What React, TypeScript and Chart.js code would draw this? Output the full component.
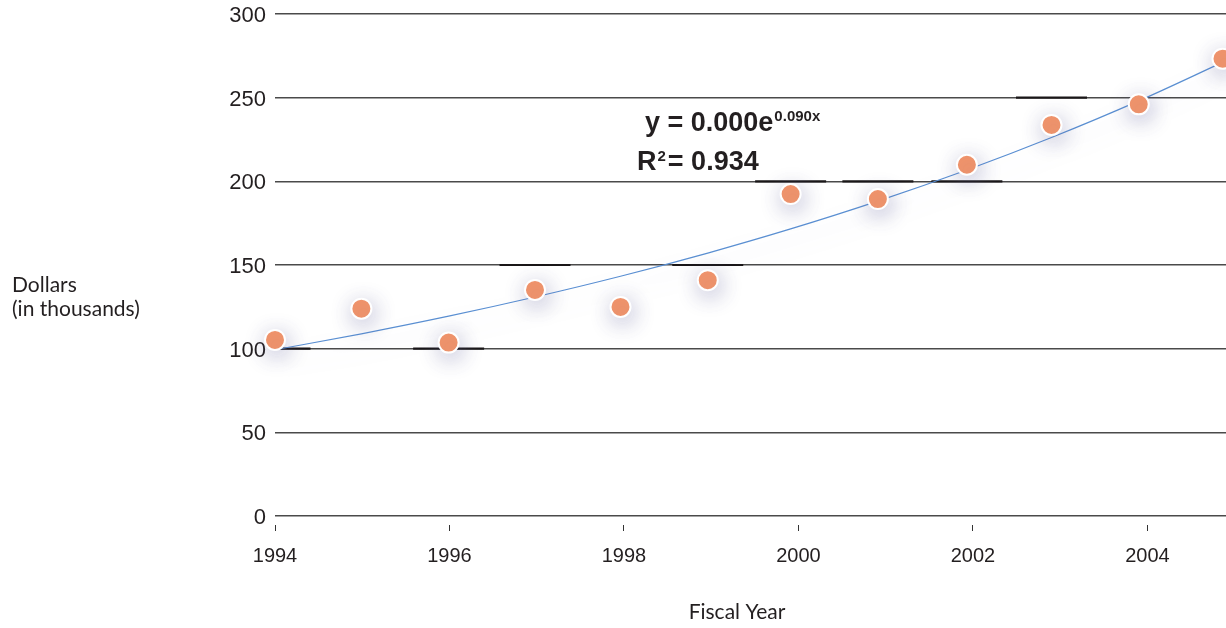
import { useEffect, useRef } from 'react';
import { Chart, registerables } from 'chart.js';

Chart.register(...registerables);

// ---- data ----
const years = [1994.0, 1994.99, 1995.99, 1996.98, 1997.96, 1998.96, 1999.91, 2000.91, 2001.93, 2002.9, 2003.9, 2004.86];
const dollars = [105.2, 123.9, 103.6, 135.1, 124.9, 140.9, 192.4, 189.4, 209.9, 233.7, 246.0, 273.3];
// short dark level marks drawn over the gridlines, one per fiscal year (null = none)
const levelMarks: (number | null)[] = [100, null, 100, 150, null, 150, 200, 200, 200, 250, null, null];
const yTickValues = [0, 50, 100, 150, 200, 250, 300];
const xTickValues = [1994, 1996, 1998, 2000, 2002, 2004];
const yAxisTitle = ['Dollars', '(in thousands)'];
const xAxisTitle = 'Fiscal Year';
const equationMain = 'y = 0.000e';
const equationExp = '0.090x';
const r2Main = 'R';
const r2Sup = '2';
const r2Value = '= 0.934';

const INK = '#231f20';
const NARROW = '"Liberation Sans Narrow", "Liberation Sans", sans-serif';

// exponential least-squares fit (ln y = ln a + b x), evaluated at the data years
function expFit(xs: number[], ys: number[]) {
  const n = xs.length;
  const x0 = xs[0];
  const lx = xs.map((x) => x - x0);
  const ly = ys.map((y) => Math.log(y));
  const mx = lx.reduce((s, v) => s + v, 0) / n;
  const my = ly.reduce((s, v) => s + v, 0) / n;
  let sxy = 0;
  let sxx = 0;
  for (let i = 0; i < n; i++) {
    sxy += (lx[i] - mx) * (ly[i] - my);
    sxx += (lx[i] - mx) * (lx[i] - mx);
  }
  const b = sxy / sxx;
  const la = my - b * mx;
  return xs.map((x) => ({ x, y: Math.exp(la + b * (x - x0)) }));
}

const shadowPlugin = {
  id: 'pointShadow',
  beforeDatasetDraw(chart: any, args: any) {
    const ctx = chart.ctx;
    ctx.save();
    if (args.index === 0) {
      ctx.shadowColor = 'rgba(95, 95, 150, 0.45)';
      ctx.shadowBlur = 22;
      ctx.shadowOffsetX = 2;
      ctx.shadowOffsetY = 5;
    } else if (args.index === 1) {
      ctx.shadowColor = 'rgba(140, 140, 200, 0.25)';
      ctx.shadowBlur = 22;
      ctx.shadowOffsetX = 0;
      ctx.shadowOffsetY = 12;
    }
  },
  afterDatasetDraw(chart: any) {
    chart.ctx.restore();
  },
};

const textPlugin = {
  id: 'texts',
  afterDraw(chart: any) {
    const ctx = chart.ctx;
    ctx.save();
    ctx.fillStyle = INK;
    ctx.textBaseline = 'alphabetic';
    ctx.textAlign = 'left';
    ctx.font = '21px Lato, "Open Sans", sans-serif';
    ctx.fillText(yAxisTitle[0], 12, 292);
    ctx.fillText(yAxisTitle[1], 12, 316);
    ctx.textAlign = 'center';
    ctx.fillText(xAxisTitle, 737, 619);

    ctx.textAlign = 'left';
    ctx.font = 'bold 27px "Liberation Sans", sans-serif';
    ctx.fillText(equationMain, 645, 131);
    const w1 = ctx.measureText(equationMain).width;
    ctx.font = 'bold 15px "Liberation Sans", sans-serif';
    ctx.fillText(equationExp, 645 + w1 + 1, 121);

    ctx.font = 'bold 27px "Liberation Sans", sans-serif';
    ctx.fillText(r2Main, 637, 170);
    const wr = ctx.measureText(r2Main).width;
    ctx.font = 'bold 15px "Liberation Sans", sans-serif';
    ctx.fillText(r2Sup, 637 + wr + 1, 161);
    const ws = ctx.measureText(r2Sup).width;
    ctx.font = 'bold 27px "Liberation Sans", sans-serif';
    ctx.fillText(r2Value, 637 + wr + ws + 3, 170);
    ctx.restore();
  },
};

export default function App() {
  const ref = useRef<HTMLCanvasElement | null>(null);

  useEffect(() => {
    if (!ref.current) return;
    const points = years.map((x, i) => ({ x, y: dollars[i] }));
    const marks = years
      .map((x, i) => ({ x, y: levelMarks[i] }))
      .filter((p) => p.y !== null) as { x: number; y: number }[];
    const trend = expFit(years, dollars);

    const chart = new Chart(ref.current, {
      type: 'scatter',
      data: {
        datasets: [
          {
            label: 'Dollars',
            data: points,
            backgroundColor: '#f4956a',
            borderColor: '#ffffff',
            borderWidth: 2,
            pointRadius: 10,
            pointHoverRadius: 10,
            clip: false,
          } as any,
          {
            type: 'line',
            label: 'Trend',
            data: trend,
            showLine: true,
            borderColor: '#5a8fd2',
            borderWidth: 1.2,
            pointRadius: 0,
            fill: false,
            cubicInterpolationMode: 'monotone',
            clip: false,
          } as any,
          {
            label: 'Marks',
            data: marks,
            pointStyle: 'line',
            pointRadius: 35.5,
            pointHoverRadius: 35.5,
            borderColor: '#1a1718',
            borderWidth: 2.2,
            backgroundColor: '#1a1718',
          } as any,
        ],
      },
      options: {
        animation: false,
        responsive: true,
        maintainAspectRatio: false,
        events: [],
        layout: { autoPadding: false, padding: { top: 14, left: 0, right: 0, bottom: 0 } },
        plugins: {
          legend: { display: false },
          tooltip: { enabled: false },
          title: { display: false },
        },
        scales: {
          x: {
            type: 'linear',
            min: 1994,
            max: 2004.9,
            afterBuildTicks: (scale: any) => {
              scale.ticks = xTickValues.map((v) => ({ value: v }));
            },
            afterFit: (scale: any) => {
              scale.height = 103;
            },
            grid: {
              drawOnChartArea: false,
              drawTicks: true,
              tickLength: 6,
              tickColor: '#333',
              tickWidth: 1,
            },
            border: { display: false },
            ticks: {
              padding: 13,
              color: INK,
              font: { family: NARROW, size: 20 },
              maxRotation: 0,
              autoSkip: false,
              callback: (v: any) => String(v),
            },
          },
          y: {
            type: 'linear',
            min: -5.4,
            max: 300,
            afterBuildTicks: (scale: any) => {
              scale.ticks = yTickValues.map((v) => ({ value: v }));
            },
            afterFit: (scale: any) => {
              scale.width = 275;
            },
            grid: {
              color: '#4a4a4a',
              lineWidth: 1.5,
              drawTicks: true,
              tickLength: 9,
              tickColor: 'rgba(0,0,0,0)',
            },
            border: { display: false },
            ticks: {
              padding: 0,
              labelOffset: 2,
              color: INK,
              font: { family: NARROW, size: 22 },
              autoSkip: false,
              callback: (v: any) => String(v),
            },
          },
        },
      },
      plugins: [shadowPlugin, textPlugin],
    } as any);

    return () => chart.destroy();
  }, []);

  return (
    <div style={{ position: 'fixed', left: 0, top: 0, width: 1226, height: 628, background: '#fff' }}>
      <canvas ref={ref} />
    </div>
  );
}
